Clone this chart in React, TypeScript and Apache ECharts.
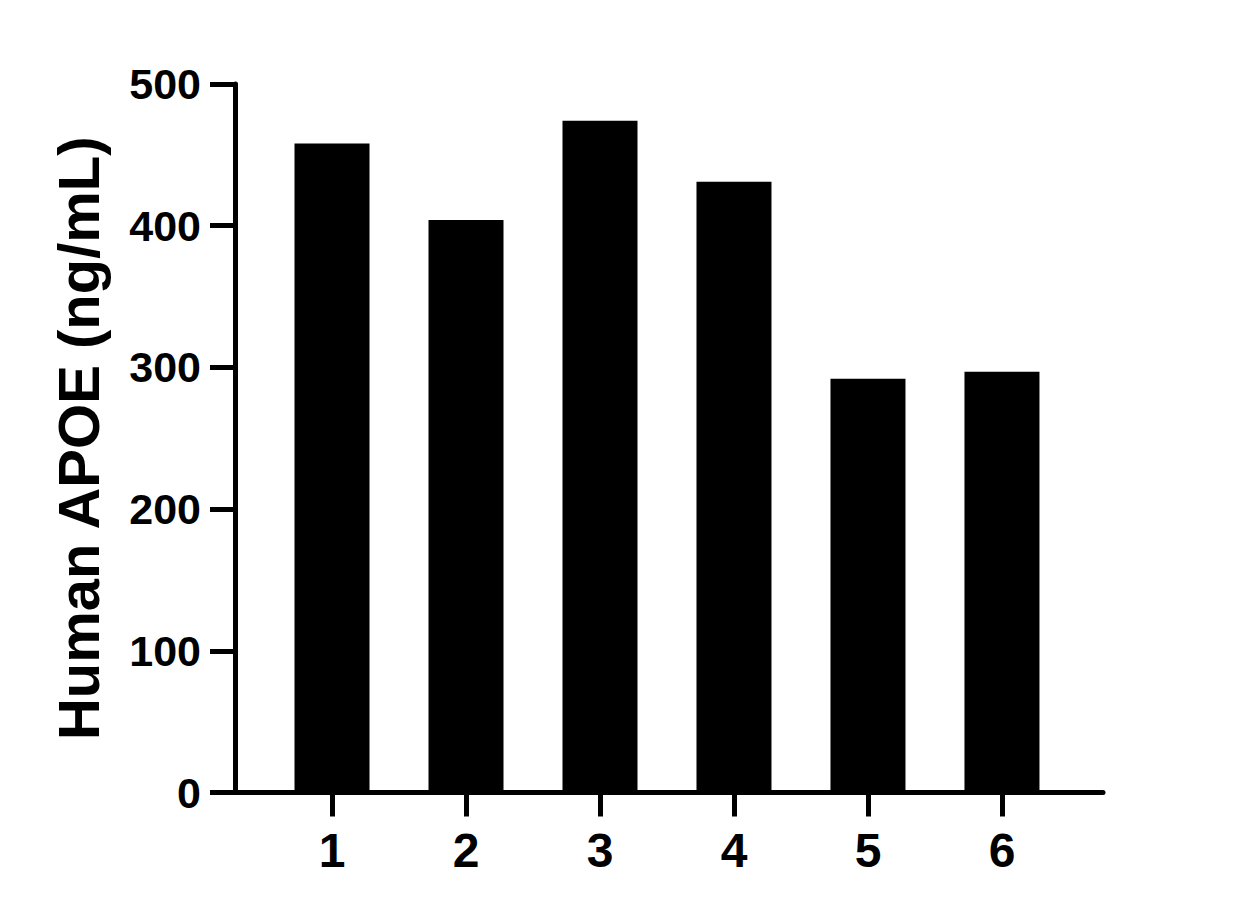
import React, { useEffect, useRef } from "react";
import * as echarts from "echarts";

const categories = [1, 2, 3, 4, 5, 6];
const values = [458, 404, 474, 431, 292, 297];
const yTicks = [0, 100, 200, 300, 400, 500];
const yTitle = "Human APOE (ng/mL)";

const FONT = "'Liberation Sans', Arial, Helvetica, sans-serif";

export default function App() {
  const ref = useRef<HTMLDivElement>(null);
  useEffect(() => {
    if (!ref.current) return;
    const chart = echarts.init(ref.current, null, { renderer: "svg" });
    chart.setOption({
      animation: false,
      backgroundColor: "#ffffff",
      grid: { left: 235, top: 84, right: 149, bottom: 126.5, containLabel: false },
      xAxis: {
        type: "value",
        min: 0.276,
        max: 6.754,
        splitLine: { show: false },
        axisLine: { show: true, onZero: false, lineStyle: { color: "#000", width: 5 } },
        axisTick: {
          show: true,
          customValues: categories,
          length: 24,
          lineStyle: { color: "#000", width: 5 },
        },
        axisLabel: {
          show: true,
          customValues: categories,
          margin: 34,
          color: "#000",
          fontSize: 48,
          fontWeight: "bold",
          fontFamily: FONT,
          formatter: (v: number) => String(v),
        },
      },
      yAxis: {
        type: "value",
        min: yTicks[0],
        max: yTicks[yTicks.length - 1],
        interval: 100,
        splitLine: { show: false },
        axisLine: { show: true, lineStyle: { color: "#000", width: 5 } },
        axisTick: { show: true, length: 25, lineStyle: { color: "#000", width: 5 } },
        axisLabel: {
          margin: 34,
          color: "#000",
          fontSize: 43,
          fontWeight: "bold",
          fontFamily: FONT,
        },
        name: yTitle,
        nameLocation: "middle",
        nameRotate: 90,
        nameGap: 128,
        nameTextStyle: {
          color: "#000",
          fontSize: 58,
          fontWeight: "bold",
          fontFamily: FONT,
        },
      },
      series: [
        {
          type: "bar",
          data: categories.map((c, i) => [c, values[i]]),
          barWidth: 75,
          itemStyle: { color: "#000" },
          z: 1,
        },
      ],
    });
    return () => chart.dispose();
  }, []);
  return (
    <div
      ref={ref}
      style={{ position: "fixed", left: 0, top: 0, width: 1252, height: 919, background: "#fff" }}
    />
  );
}
